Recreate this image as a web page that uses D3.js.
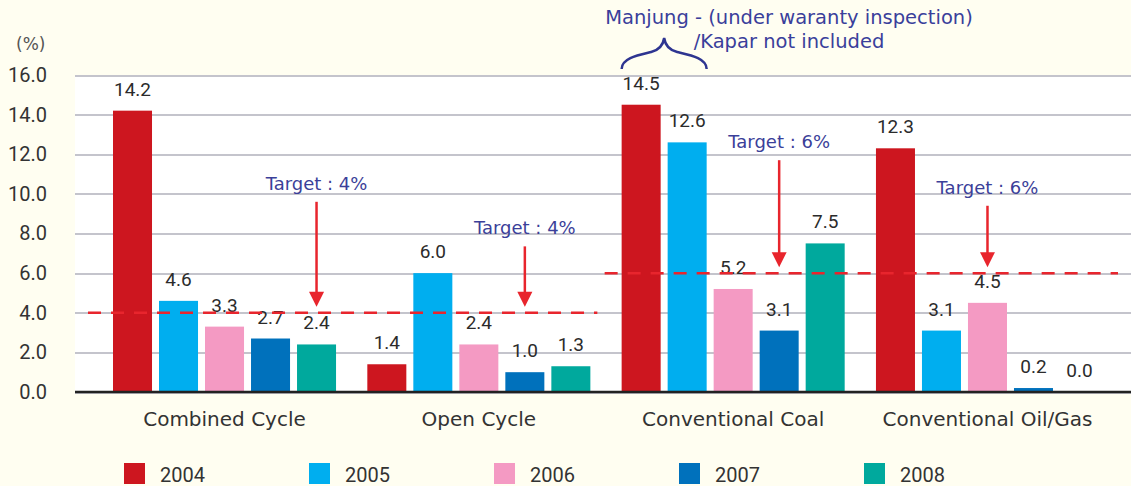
<!DOCTYPE html>
<meta charset="utf-8">

<style>
  body { margin: 0; background: #fffef1; }
  .grid_line { stroke: #c4c4cc; stroke-width: 2px; shape-rendering: crispEdges; }
  .value { font-family: Roboto, sans-serif; font-size: 19px; fill: #2b2b2b; }
  .tick_label { font-family: Roboto, sans-serif; font-size: 20px; fill: #333; }
  .cat_label { font-family: "DejaVu Sans", sans-serif; font-size: 20px; fill: #333; }
  .target_label { font-family: "DejaVu Sans", sans-serif; font-size: 18px; fill: #3b3f99; }
  .note { font-family: "DejaVu Sans", sans-serif; font-size: 19.5px; fill: #3a3f9b; }
  .legend text { font-family: Roboto, sans-serif; font-size: 20px; fill: #333; }
</style>

<script src="https://d3js.org/d3.v7.min.js"></script>

<div id="my_dataviz"></div>

<script>

// data
var categories = ["Combined Cycle", "Open Cycle", "Conventional Coal", "Conventional Oil/Gas"];
var years = ["2004", "2005", "2006", "2007", "2008"];
var values2004 = [14.2, 1.4, 14.5, 12.3];
var values2005 = [4.6, 6.0, 12.6, 3.1];
var values2006 = [3.3, 2.4, 5.2, 4.5];
var values2007 = [2.7, 1.0, 3.1, 0.2];
var values2008 = [2.4, 1.3, 7.5, 0.0];
var yTicks = [0, 2, 4, 6, 8, 10, 12, 14, 16];

// targets: value, which bar the arrow points to, where the arrow starts (in %)
var targetValues = [4, 4, 6, 6];
var targetArrowYear = ["2008", "2007", "2007", "2006"];
var targetArrowFrom = [9.6, 7.35, 11.7, 9.4];

var noteLines = ["Manjung - (under waranty inspection)", "/Kapar not included"];

var colors = ["#cd161f", "#00aeef", "#f49ac3", "#0071bc", "#00a99d"];

var width = 1131, height = 486;
var plot = {left: 75, right: 1131, top: 75, bottom: 392};

var svg = d3.select("#my_dataviz")
  .append("svg")
    .attr("width", width)
    .attr("height", height);

var series = [values2004, values2005, values2006, values2007, values2008];
var dataReady = categories.map(function(c, i) {
  return { name: c, values: years.map(function(yr, j) { return {year: yr, value: series[j][i]}; }) };
});

// scales
var x0 = d3.scaleBand()
  .domain(categories)
  .range([113, 1099])
  .paddingInner(0.123)
  .paddingOuter(0);

var x1 = d3.scaleBand()
  .domain(years)
  .range([0, x0.bandwidth()])
  .paddingInner(0.152)
  .paddingOuter(0);

var y = d3.scaleLinear()
  .domain([0, 16])
  .range([plot.bottom, plot.top]);

var color = d3.scaleOrdinal().domain(years).range(colors);

// white plot background
svg.append("rect")
  .attr("x", plot.left)
  .attr("y", plot.top)
  .attr("width", plot.right - plot.left)
  .attr("height", plot.bottom - plot.top)
  .style("fill", "white");

// y axis: grid + labels
var yAxis = svg.append("g")
  .attr("transform", "translate(" + plot.left + ",0)")
  .call(d3.axisLeft(y).tickValues(yTicks).tickSize(-(plot.right - plot.left)).tickFormat(d3.format(".1f")).tickPadding(28));
yAxis.select(".domain").remove();
yAxis.selectAll(".tick line").attr("class", "grid_line");
yAxis.selectAll(".tick text").attr("class", "tick_label");

svg.append("text")
  .attr("class", "tick_label")
  .attr("x", 16)
  .attr("y", 50)
  .style("font-family", "DejaVu Sans")
  .style("font-size", "17px")
  .style("fill", "#555")
  .text("(%)");

// bars
var groups = svg.selectAll("myGroups")
  .data(dataReady)
  .enter()
  .append("g")
    .attr("transform", function(d) { return "translate(" + x0(d.name) + ",0)"; });

groups.selectAll("rect")
  .data(function(d) { return d.values; })
  .enter()
  .append("rect")
    .attr("x", function(d) { return x1(d.year); })
    .attr("y", function(d) { return y(d.value); })
    .attr("width", x1.bandwidth())
    .attr("height", function(d) { return y(0) - y(d.value); })
    .style("fill", function(d) { return color(d.year); });

// baseline
svg.append("line")
  .attr("x1", plot.left).attr("x2", plot.right)
  .attr("y1", y(0)).attr("y2", y(0))
  .style("stroke", "#222").style("stroke-width", 2.5);

// target dashed lines (one per pair of categories)
var targetPairs = [[0, 1, -25, 7], [2, 3, -17, 19]];
targetPairs.forEach(function(p) {
  svg.append("line")
    .attr("x1", x0(categories[p[0]]) + p[2])
    .attr("x2", x0(categories[p[1]]) + x0.bandwidth() + p[3])
    .attr("y1", y(targetValues[p[0]]))
    .attr("y2", y(targetValues[p[0]]))
    .style("stroke", "#e8252d")
    .style("stroke-width", 2.5)
    .style("stroke-dasharray", "13,10");
});

// value labels
groups.selectAll(".value")
  .data(function(d) { return d.values; })
  .enter()
  .append("text")
    .attr("class", "value")
    .attr("x", function(d) { return x1(d.year) + x1.bandwidth() / 2; })
    .attr("y", function(d) { return y(d.value) - 15; })
    .attr("text-anchor", "middle")
    .text(function(d) { return d.value.toFixed(1); });

// target arrows
var defs = svg.append("defs");
categories.forEach(function(c, i) {
  var ax = x0(c) + x1(targetArrowYear[i]) + x1.bandwidth() / 2;
  var yTop = y(targetArrowFrom[i]);
  var yTip = y(targetValues[i]) - 6;
  svg.append("line")
    .attr("x1", ax).attr("x2", ax)
    .attr("y1", yTop).attr("y2", yTip - 12)
    .style("stroke", "#e8252d").style("stroke-width", 2.5);
  svg.append("path")
    .attr("d", "M" + (ax - 7.5) + "," + (yTip - 15) + "L" + (ax + 7.5) + "," + (yTip - 15) + "L" + ax + "," + yTip + "Z")
    .style("fill", "#e8252d");
  svg.append("text")
    .attr("class", "target_label")
    .attr("x", ax)
    .attr("y", yTop - 12)
    .attr("text-anchor", "middle")
    .text("Target : " + targetValues[i] + "%");
});

// category labels
svg.selectAll("catLabels")
  .data(categories)
  .enter()
  .append("text")
    .attr("class", "cat_label")
    .attr("x", function(d) { return x0(d) + x0.bandwidth() / 2; })
    .attr("y", 426)
    .attr("text-anchor", "middle")
    .text(function(d) { return d; });

// note + brace over Conventional Coal 2004/2005
var L = x0("Conventional Coal") + x1("2004"),
    R = x0("Conventional Coal") + x1("2005") + x1.bandwidth(),
    M = (L + R) / 2;
svg.append("path")
  .attr("d", "M" + L + ",69 C" + L + ",58 " + (L + 17) + ",55 " + (M - 13) + ",52 C" + (M - 5) + ",50 " + (M - 1) + ",45 " + M + ",38" +
             " C" + (M + 1) + ",45 " + (M + 5) + ",50 " + (M + 13) + ",52 C" + (R - 17) + ",55 " + R + ",58 " + R + ",69")
  .style("fill", "none")
  .style("stroke", "#2e3591")
  .style("stroke-width", 2.5);

svg.selectAll("noteLines")
  .data(noteLines)
  .enter()
  .append("text")
    .attr("class", "note")
    .attr("x", 789)
    .attr("y", function(d, i) { return 23.5 + i * 24.5; })
    .attr("text-anchor", "middle")
    .text(function(d) { return d; });

// legend
var legend = svg.append("g").attr("class", "legend");
legend.selectAll("legendRects")
  .data(years)
  .enter()
  .append("rect")
    .attr("x", function(d, i) { return 124 + i * 185; })
    .attr("y", 463)
    .attr("width", 21)
    .attr("height", 21)
    .style("fill", function(d) { return color(d); });
legend.selectAll("legendTexts")
  .data(years)
  .enter()
  .append("text")
    .attr("x", function(d, i) { return 160 + i * 185; })
    .attr("y", 482)
    .text(function(d) { return d; });

</script>
